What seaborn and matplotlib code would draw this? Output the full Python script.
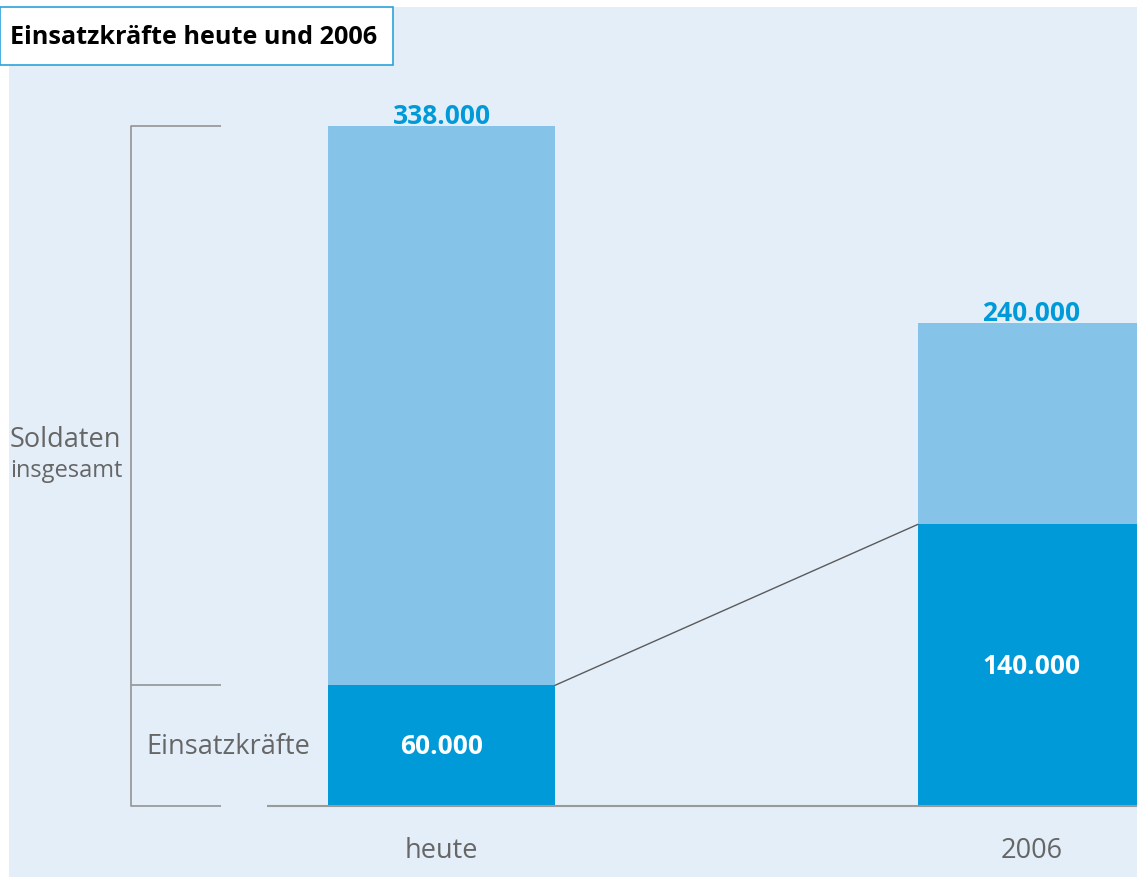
import matplotlib
matplotlib.use("Agg")
import matplotlib.pyplot as plt
import seaborn as sns
import pandas as pd
from matplotlib.patches import Rectangle
from matplotlib.transforms import blended_transform_factory

# ---- data ----
categories = ["heute", "2006"]
soldaten_insgesamt = [338000, 240000]
einsatzkraefte = [60000, 140000]
labels_total = ["338.000", "240.000"]
labels_einsatz = ["60.000", "140.000"]
title = "Einsatzkräfte heute und 2006"

W, H = 1137, 878
LIGHT = "#86C3E9"
DARK = "#009AD9"
BG = "#E4EEF8"
GRAY_TXT = "#666666"
GRAY_LINE = "#9A9A9A"

sns.set_theme(style="white")
plt.rcParams["font.family"] = ["Open Sans", "DejaVu Sans"]

fig = plt.figure(figsize=(W / 100, H / 100), dpi=100)
fig.patch.set_facecolor("white")
fig.patches.append(Rectangle((9 / W, 0), (W - 9) / W, (H - 8) / H,
                             transform=fig.transFigure, facecolor=BG,
                             edgecolor="none", zorder=-1))

ax = fig.add_axes([0, 0, 1, 1])
ax.set_facecolor("none")

df = pd.DataFrame({"Zeitpunkt": categories,
                   "Soldaten": soldaten_insgesamt,
                   "Einsatz": einsatzkraefte})
bw = 0.385
sns.barplot(data=df, x="Zeitpunkt", y="Soldaten", color=LIGHT, width=bw,
            saturation=1, ax=ax, zorder=2, edgecolor="none", linewidth=0)
sns.barplot(data=df, x="Zeitpunkt", y="Einsatz", color=DARK, width=bw,
            saturation=1, ax=ax, zorder=3, edgecolor="none", linewidth=0)

ax.set_xlim(-441.5 / 590, (W - 441.5) / 590)
ax.set_ylim(-35292, 401136)
ax.axis("off")

fx = blended_transform_factory(fig.transFigure, ax.transData)
xa = blended_transform_factory(ax.transData, fig.transFigure)

# baseline
ax.plot([267 / W, 1.0], [0, 0], transform=fx, color=GRAY_LINE, lw=1.5,
        zorder=4, solid_capstyle="butt")

# bracket
top = soldaten_insgesamt[0]
mid = einsatzkraefte[0]
ax.plot([131 / W, 131 / W], [0, top], transform=fx, color=GRAY_LINE, lw=1.3)
for yv in (0, mid, top):
    ax.plot([131 / W, 221 / W], [yv, yv], transform=fx, color=GRAY_LINE,
            lw=1.3, solid_capstyle="butt")

# connecting line
ax.plot([0 + bw / 2, 1 - bw / 2], [einsatzkraefte[0], einsatzkraefte[1]],
        color="#5A5A5A", lw=1.0, zorder=4)

# value labels
for i in range(len(categories)):
    ax.annotate(labels_total[i], (i, soldaten_insgesamt[i]), xytext=(0, 2),
                textcoords="offset points", ha="center", va="baseline",
                color=DARK, fontsize=19, fontweight="bold", zorder=5)
    ax.text(i, einsatzkraefte[i] / 2, labels_einsatz[i], ha="center",
            va="center", color="white", fontsize=19, fontweight="bold",
            zorder=5)
    ax.text(i, 1 - 851 / H, categories[i], transform=xa, ha="center",
            va="center", color=GRAY_TXT, fontsize=19.5)

# left labels
fig.text(10 / W, 1 - 440 / H, "Soldaten", ha="left", va="center",
         color=GRAY_TXT, fontsize=19.5)
fig.text(10 / W, 1 - 471 / H, "insgesamt", ha="left", va="center",
         color=GRAY_TXT, fontsize=17)
ax.text(310 / W, mid / 2, "Einsatzkräfte", transform=fx, ha="right",
        va="center", color=GRAY_TXT, fontsize=19.5)

# title box
fig.patches.append(Rectangle((0, 1 - 66 / H), 393 / W, 58 / H,
                             transform=fig.transFigure, facecolor="white",
                             edgecolor="#2BA3DC", lw=1.2, zorder=5))
fig.text(10 / W, 1 - 37 / H, title, ha="left", va="center", color="black",
         fontsize=18.2, fontweight="bold", zorder=6)

fig.savefig("out.png", dpi=100)
